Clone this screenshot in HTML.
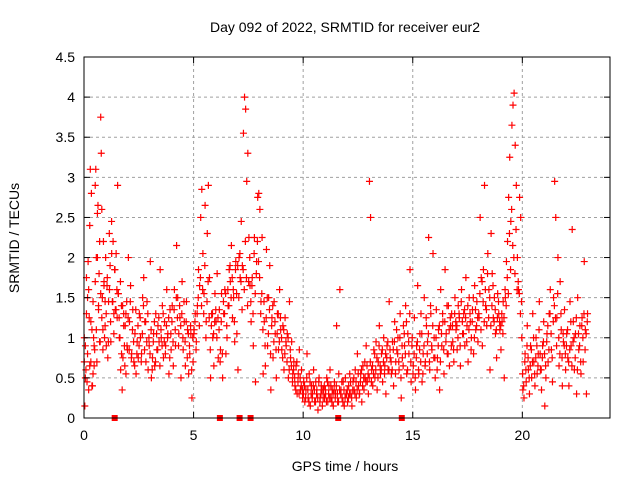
<!DOCTYPE html>
<html><head><meta charset="utf-8"><style>
html,body{margin:0;padding:0;background:#fff}
svg{display:block;font-family:"Liberation Sans",sans-serif}
</style></head><body>
<svg id="chart" width="640" height="480" viewBox="0 0 640 480">
<text x="345" y="32" text-anchor="middle" font-size="14" fill="#000">Day 092 of 2022, SRMTID for receiver eur2</text>
<text x="345" y="471" text-anchor="middle" font-size="14" fill="#000">GPS time / hours</text>
<text transform="translate(19,238) rotate(-90)" text-anchor="middle" font-size="14" fill="#000">SRMTID / TECUs</text>
<g id="grid"></g><g id="marks"></g><g id="axes"></g>
</svg>
<script>
const xTicks=[0,5,10,15,20];
const yTicks=[0,0.5,1,1.5,2,2.5,3,3.5,4,4.5];
const yTickLabels=["0","0.5","1","1.5","2","2.5","3","3.5","4","4.5"];
const gapTimes=[1.4,6.2,7.1,7.6,11.6,14.5];
const hourValues=[
[0.7,0.15,0.9,0.6,1.75,0.45,1.5,1.95,0.35,1.25,2.4,3.1,0.7,2.8,1.1,0.4,0.55,1.0,0.65,0.85,2.9,3.1,2.0,0.7,2.55,2.65,1.4,1.8,2.2,0.95,3.75,3.3,2.6,1.5,1.1,2.2,1.7,1.0,1.45,2.0],
[0.9,1.65,0.75,1.45,2.3,1.9,0.95,2.45,1.45,2.2,1.3,1.85,1.35,2.05,1.6,2.9,1.55,1.25,1.0,0.6,1.4,0.35,0.75,1.3,0.9,1.15,0.55,1.45,0.85],
[2.0,1.2,1.65,0.8,1.35,0.7,1.05,0.55,0.95,0.75,1.3,1.0,0.8,1.5,1.75,1.2,0.7,1.45,0.6,0.9],
[1.95,0.5,0.75,1.05,0.65,1.3,0.85,1.15,0.95,1.85,1.0,1.4,0.75,1.2,0.9,1.6,1.05,0.55,1.35,0.85],
[1.4,0.65,1.6,0.9,2.15,1.5,1.05,1.25,0.5,1.7,0.85,1.2,0.65,1.45,1.1,0.55,0.8,1.05,0.25,0.7],
[1.1,1.3,0.95,1.4,1.85,1.65,2.5,2.85,2.05,1.55,2.65,1.2,2.3,2.9,1.75,0.5,1.3,1.0,0.65,1.55],
[1.2,1.8,0.75,1.35,0.85,1.55,0.5,1.3,1.6,0.8,1.0,1.4,1.85,1.7,2.15,1.25,1.5,0.95,1.95,1.05],
[0.6,2.0,1.75,2.45,1.9,3.55,4.0,3.85,2.95,3.3,2.25,1.65,1.2,1.75,0.9,2.25,0.45,1.95,2.75,2.8],
[2.6,1.45,2.25,0.55,1.2,0.65,2.1,0.9,1.5,1.9,0.35,1.25,0.75,1.45,1.05,0.5,1.3,0.85,1.6,1.1],
[0.85,1.15,0.6,1.25,0.9,1.05,0.5,1.45,0.75,0.95,0.55,0.7,0.4,0.65,0.3,0.55,0.85,0.35,0.6,0.25],
[0.45,0.2,0.35,0.8,0.25,0.55,0.15,0.4,0.3,0.6,0.2,0.45,0.35,0.1,0.5,0.25,0.4,0.15,0.35,0.25],
[0.3,0.5,0.2,0.4,0.6,0.25,0.35,0.15,0.45,0.3,1.15,0.2,0.55,1.6,0.35,0.25,0.45,0.15,0.5,0.3],
[0.2,0.4,0.55,0.3,0.15,0.45,0.35,0.6,0.25,0.8,0.4,0.3,0.55,0.2,0.65,0.35,0.5,0.9,0.45,0.3],
[2.95,2.5,0.6,0.4,0.85,0.5,0.95,0.35,0.7,1.15,0.55,0.8,0.45,1.0,0.65,0.3,0.9,0.6,1.45,0.75],
[0.55,0.95,0.4,1.2,0.7,0.85,1.0,0.6,1.3,0.25,0.75,1.15,0.9,1.4,0.55,1.05,0.8,1.85,0.45,1.0],
[0.65,1.25,0.35,0.9,1.65,0.55,1.05,1.3,0.45,0.8,1.5,0.7,1.15,0.95,2.25,0.6,1.3,0.85,2.05,1.0],
[0.5,1.35,0.75,1.1,0.35,1.6,0.9,1.2,0.55,1.85,1.05,0.8,1.4,0.65,1.15,1.3,0.95,0.7,1.5,1.1],
[0.85,1.4,1.25,0.65,1.6,1.05,1.3,0.9,1.75,1.15,0.7,1.5,1.2,1.0,1.35,0.8,1.65,1.1,1.45,0.95],
[1.25,2.5,1.75,0.9,1.85,2.9,1.4,1.15,2.05,1.6,0.6,2.3,1.8,1.25,1.5,1.05,0.75,1.55,1.3,1.1],
[0.85,1.2,1.45,0.5,1.5,1.95,2.2,2.75,3.25,2.45,3.65,3.9,4.05,3.4,2.9,2.0,1.6,2.75,2.5,1.0],
[0.35,0.25,0.8,0.45,1.15,0.6,0.3,0.9,0.5,1.3,0.7,0.4,1.0,0.55,0.8,1.45,0.6,0.35,0.9,1.2],
[0.15,0.5,1.05,0.7,1.3,1.6,0.85,0.45,1.5,2.95,2.5,1.25,2.0,0.65,1.7,1.1,0.4,0.95,1.35,0.6],
[1.05,0.75,0.4,1.45,0.9,2.35,1.2,0.6,1.05,0.3,1.5,0.85,1.15,0.55,1.25,0.7,1.95,1.1,0.3,1.3]
];
const hourValues2=[
[1.0,0.5,1.3,0.8,1.6,0.65,1.2,0.4,1.45,0.9,1.7,1.1,2.0,1.35,0.95,1.55,1.25,0.85,1.65,1.15],
[1.3,1.75,0.95,1.6,1.2,2.05,1.45,1.05,1.85,1.35,1.25,1.55,1.0,1.7,0.8,1.4,1.15,0.65,1.3,0.9],
[1.25,0.85,1.45,0.75,1.1,0.95,0.65,1.35,0.8,1.15,0.9,1.25,0.7,1.05,1.4,0.85,1.2,0.95,1.3,1.0],
[0.8,1.1,0.6,0.95,1.2,0.7,1.05,0.85,1.25,0.65,1.1,0.9,1.3,0.95,0.8,1.15,1.0,1.25,0.75,1.05],
[1.2,0.95,1.35,1.1,1.5,1.25,0.9,1.4,1.15,1.3,1.0,1.45,0.95,1.2,0.75,1.05,0.9,1.15,0.6,1.0],
[1.05,1.2,0.85,1.3,1.5,1.15,1.75,1.4,1.6,1.3,1.9,1.0,1.45,1.7,1.25,0.85,1.15,1.3,1.05,1.2],
[1.35,1.0,1.25,1.1,0.7,1.2,0.8,1.45,1.3,1.55,1.15,1.6,1.4,1.9,1.5,1.75,1.6,1.2,1.85,1.55],
[1.9,1.5,2.05,1.7,1.35,1.85,1.6,2.2,1.75,1.4,1.7,2.0,1.45,1.65,1.3,2.05,1.55,1.8,2.2,1.95],
[1.75,1.3,1.55,1.1,1.45,0.9,1.25,1.5,1.05,1.35,0.8,1.15,1.4,0.95,1.2,0.85,1.05,1.3,0.95,1.25],
[1.0,0.75,1.1,0.8,0.95,0.7,1.0,0.6,0.85,0.65,0.45,0.6,0.5,0.35,0.7,0.45,0.3,0.5,0.4,0.35],
[0.3,0.4,0.25,0.5,0.35,0.2,0.45,0.3,0.25,0.4,0.35,0.2,0.3,0.25,0.45,0.2,0.3,0.35,0.25,0.4],
[0.35,0.2,0.45,0.3,0.25,0.4,0.2,0.3,0.35,0.25,0.4,0.3,0.2,0.35,0.3,0.45,0.2,0.35,0.25,0.3],
[0.35,0.25,0.3,0.45,0.25,0.35,0.5,0.3,0.45,0.35,0.55,0.3,0.45,0.6,0.4,0.5,0.7,0.45,0.65,0.55],
[0.5,0.7,0.45,0.65,0.55,0.8,0.6,0.75,0.5,0.9,0.65,0.6,0.85,0.7,0.55,0.8,0.75,0.95,0.6,0.85],
[0.7,0.6,0.85,0.95,0.55,1.1,0.8,0.7,1.0,0.5,0.9,0.65,1.05,0.8,1.2,0.6,0.95,1.3,0.7,0.9],
[0.55,0.8,0.5,0.75,0.95,0.6,0.85,0.7,1.05,0.55,0.9,0.65,1.25,0.8,1.05,0.7,1.4,0.9,1.15,0.75],
[0.75,1.0,0.6,0.9,1.15,0.7,1.05,1.3,0.85,1.2,0.95,1.4,0.8,1.1,1.25,0.9,1.15,0.85,1.3,1.2],
[1.15,1.0,1.3,0.9,1.45,1.2,1.05,1.35,1.25,0.95,1.4,1.1,1.3,0.85,1.2,1.5,1.0,1.35,1.15,1.25],
[1.3,1.55,1.1,1.7,1.45,1.2,1.6,1.35,1.8,1.25,1.5,1.15,1.4,1.65,1.2,1.35,1.1,1.25,1.45,1.2],
[1.15,1.3,1.05,1.25,1.6,1.4,1.75,1.55,2.3,1.85,2.6,2.15,2.0,1.8,2.35,1.6,1.7,1.55,1.3,1.45],
[0.55,0.4,0.7,0.6,0.9,0.75,0.5,0.65,0.85,0.7,1.0,0.55,0.75,0.9,0.65,1.1,0.8,0.6,0.75,0.95],
[0.8,0.65,0.95,1.15,0.85,1.3,1.05,0.75,1.2,1.4,1.25,0.9,1.55,1.0,0.8,1.3,0.75,1.05,0.9,0.8],
[0.9,1.1,0.7,0.85,1.2,0.65,0.95,1.0,0.75,1.25,0.6,1.05,0.9,0.7,1.15,1.0,1.3,0.85,1.05,1.2]
];
const NS="http://www.w3.org/2000/svg";
const L=84,R=610,T=57,B=418,XMAX=24,YMAX=4.5;
const xs=v=>L+v/XMAX*(R-L);
const ys=v=>B-v/YMAX*(B-T);
function mk(tag,attrs,parent){const e=document.createElementNS(NS,tag);for(const k in attrs)e.setAttribute(k,attrs[k]);parent.appendChild(e);return e;}
const grid=document.getElementById('grid'),marks=document.getElementById('marks'),axes=document.getElementById('axes');
yTicks.forEach((v,i)=>{
  if(v>0&&v<YMAX){const g=mk('line',{x1:L,x2:R,y1:ys(v),y2:ys(v),stroke:'#a0a0a0','stroke-dasharray':'3,3'},grid);
  
  }
  const t=mk('text',{x:L-9,y:ys(v)+5,'text-anchor':'end','font-size':'14',fill:'#000'},axes);t.textContent=yTickLabels[i];
  
  
  mk('line',{x1:L,x2:L+6,y1:ys(v),y2:ys(v),stroke:'#000'},axes);
  mk('line',{x1:R,x2:R-6,y1:ys(v),y2:ys(v),stroke:'#000'},axes);
});
xTicks.forEach(v=>{
  if(v>0){const g=mk('line',{x1:xs(v),x2:xs(v),y1:T,y2:B,stroke:'#a0a0a0','stroke-dasharray':'3,3'},grid);
  
  }
  const t=mk('text',{x:xs(v),y:B+22,'text-anchor':'middle','font-size':'14',fill:'#000'},axes);t.textContent=String(v);
  
  
  mk('line',{x1:xs(v),x2:xs(v),y1:B,y2:B-6,stroke:'#000'},axes);
  mk('line',{x1:xs(v),x2:xs(v),y1:T,y2:T+6,stroke:'#000'},axes);
});
const frame=mk('rect',{x:L,y:T,width:R-L,height:B-T,fill:'none',stroke:'#000'},axes);


function drawSeries(data,offset){
  data.forEach((vals,h)=>{
    vals.forEach((v,i)=>{
      const t=h+(i+offset)/vals.length;
      const cx=xs(t),cy=ys(v);
      const p=mk('path',{d:`M${cx-3.5},${cy}h7M${cx},${cy-3.5}v7`,stroke:'#ff0000','stroke-width':'1.2',fill:'none'},marks);
      
      
    });
  });
}
drawSeries(hourValues2,0.25);
drawSeries(hourValues,0.5);
gapTimes.forEach(t=>{
  const r=mk('rect',{x:xs(t)-3,y:B-3,width:6,height:6,fill:'#ff0000'},marks);
  
  
});
</script>
</body></html>
